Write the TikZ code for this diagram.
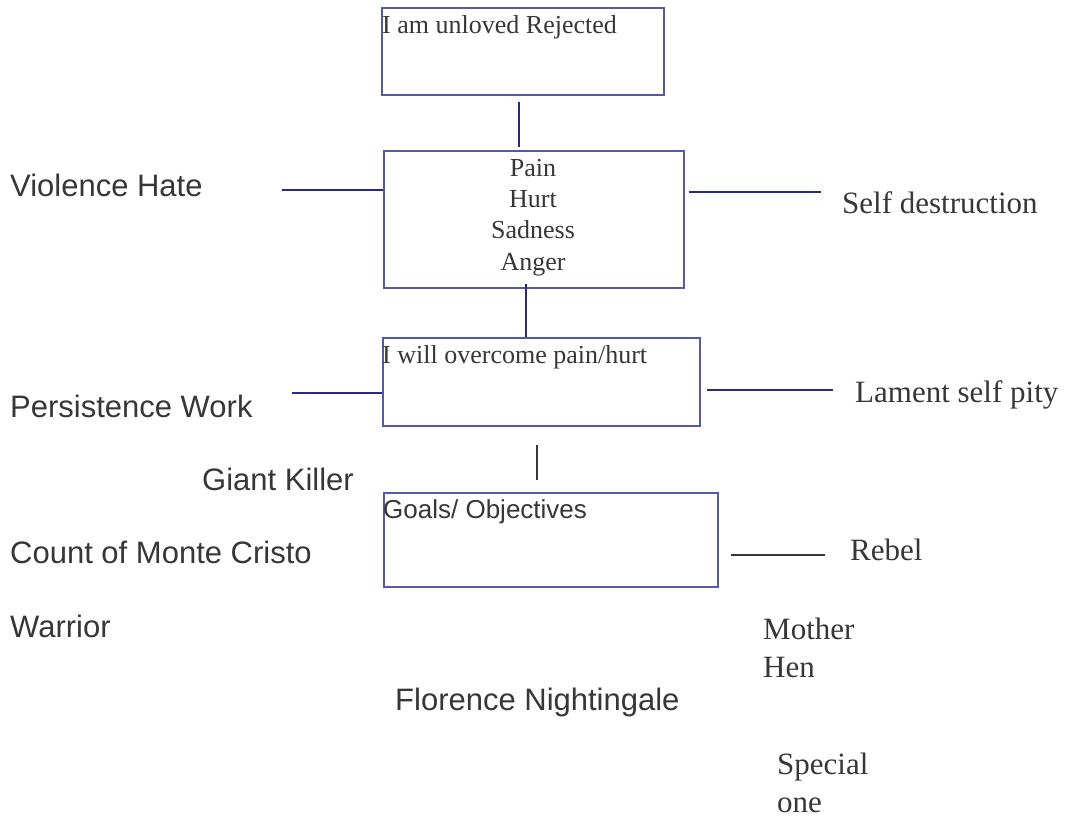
\documentclass[tikz,border=0pt]{standalone}
\usepackage{fontspec}
\setmainfont{Liberation Serif}
\setsansfont{Liberation Sans}
\definecolor{boxblue}{RGB}{88,88,170}
\definecolor{lineblue}{RGB}{40,40,140}
\definecolor{txt}{RGB}{55,55,55}
\begin{document}
\begin{tikzpicture}[x=1pt,y=-1pt,
  box/.style={draw=boxblue, line width=1.7pt, inner sep=0pt, anchor=north west},
  conn/.style={draw=lineblue, line width=1.8pt},
  darkconn/.style={draw=txt, line width=2.2pt},
  bigsans/.style={inner sep=0pt, anchor=base west, text=txt, font=\sffamily\fontsize{31}{37}\selectfont},
  bigserif/.style={inner sep=0pt, anchor=base west, text=txt, font=\rmfamily\fontsize{31}{37.5}\selectfont, align=left},
  boxserif/.style={inner sep=0pt, anchor=base west, text=txt, font=\rmfamily\fontsize{26}{31.3}\selectfont},
  boxsans/.style={inner sep=0pt, anchor=base west, text=txt, font=\sffamily\fontsize{26}{31}\selectfont}]
\useasboundingbox[fill=white] (0,0) rectangle (1070,820);

% boxes
\node[box, minimum width=282pt, minimum height=87pt] (b1) at (381,7) {};
\node[box, minimum width=300pt, minimum height=137pt] (b2) at (383,150) {};
\node[box, minimum width=317pt, minimum height=88pt] (b3) at (382,337) {};
\node[box, minimum width=334pt, minimum height=94pt] (b4) at (383,492) {};

% box texts
\node[boxserif] (t1) at (382,33) {I am unloved Rejected};
\node[boxserif, align=center, anchor=base] (t2) at (533,270) {Pain\\Hurt\\Sadness\\Anger};
\node[boxserif] (t3) at (382,363) {I will overcome pain/hurt};
\node[boxsans] (t4) at (383,518) {Goals/ Objectives};

% column coordinates
\coordinate (x1) at (519,0);
\coordinate (x2) at (526,0);
\coordinate (x3) at (537,0);

\draw[conn, shorten <=6pt, shorten >=3pt] (b1.south -| x1) -- (b2.north -| x1);
\draw[conn, shorten <=-5pt] (b2.south -| x2) -- (b3.north -| x2);
\draw[darkconn, shorten <=18pt, shorten >=12pt] (b3.south -| x3) -- (b4.north -| x3);

% side connectors
\coordinate (vh) at (282,190);
\coordinate (pw) at (292,393);
\coordinate (sd) at (821,192);
\coordinate (ls) at (833,390);
\coordinate (rb) at (825,555);
\draw[conn] (vh) -- (vh -| b2.west);
\draw[conn] (pw) -- (pw -| b3.west);
\draw[conn, shorten <=4pt] (sd -| b2.east) -- (sd);
\draw[conn, shorten <=6pt] (ls -| b3.east) -- (ls);
\draw[darkconn, shorten <=12pt] (rb -| b4.east) -- (rb);

% outer labels
\node[bigsans] (l1) at (10,196) {Violence Hate};
\node[bigserif] (l2) at (842,213) {Self destruction};
\node[bigsans] (l3) at (10,417) {Persistence Work};
\node[bigserif] (l4) at (855,402) {Lament self pity};
\node[bigsans] (l5) at (202,490) {Giant Killer};
\node[bigsans] (l6) at (10,563) {Count of Monte Cristo};
\node[bigserif] (l7) at (850,560) {Rebel};
\node[bigsans] (l8) at (10,637) {Warrior};
\node[bigserif] (l9) at (763,677) {Mother\\Hen};
\node[bigsans] (l10) at (395,710) {Florence Nightingale};
\node[bigserif] (l11) at (777,812) {Special\\one};
\end{tikzpicture}
\end{document}
